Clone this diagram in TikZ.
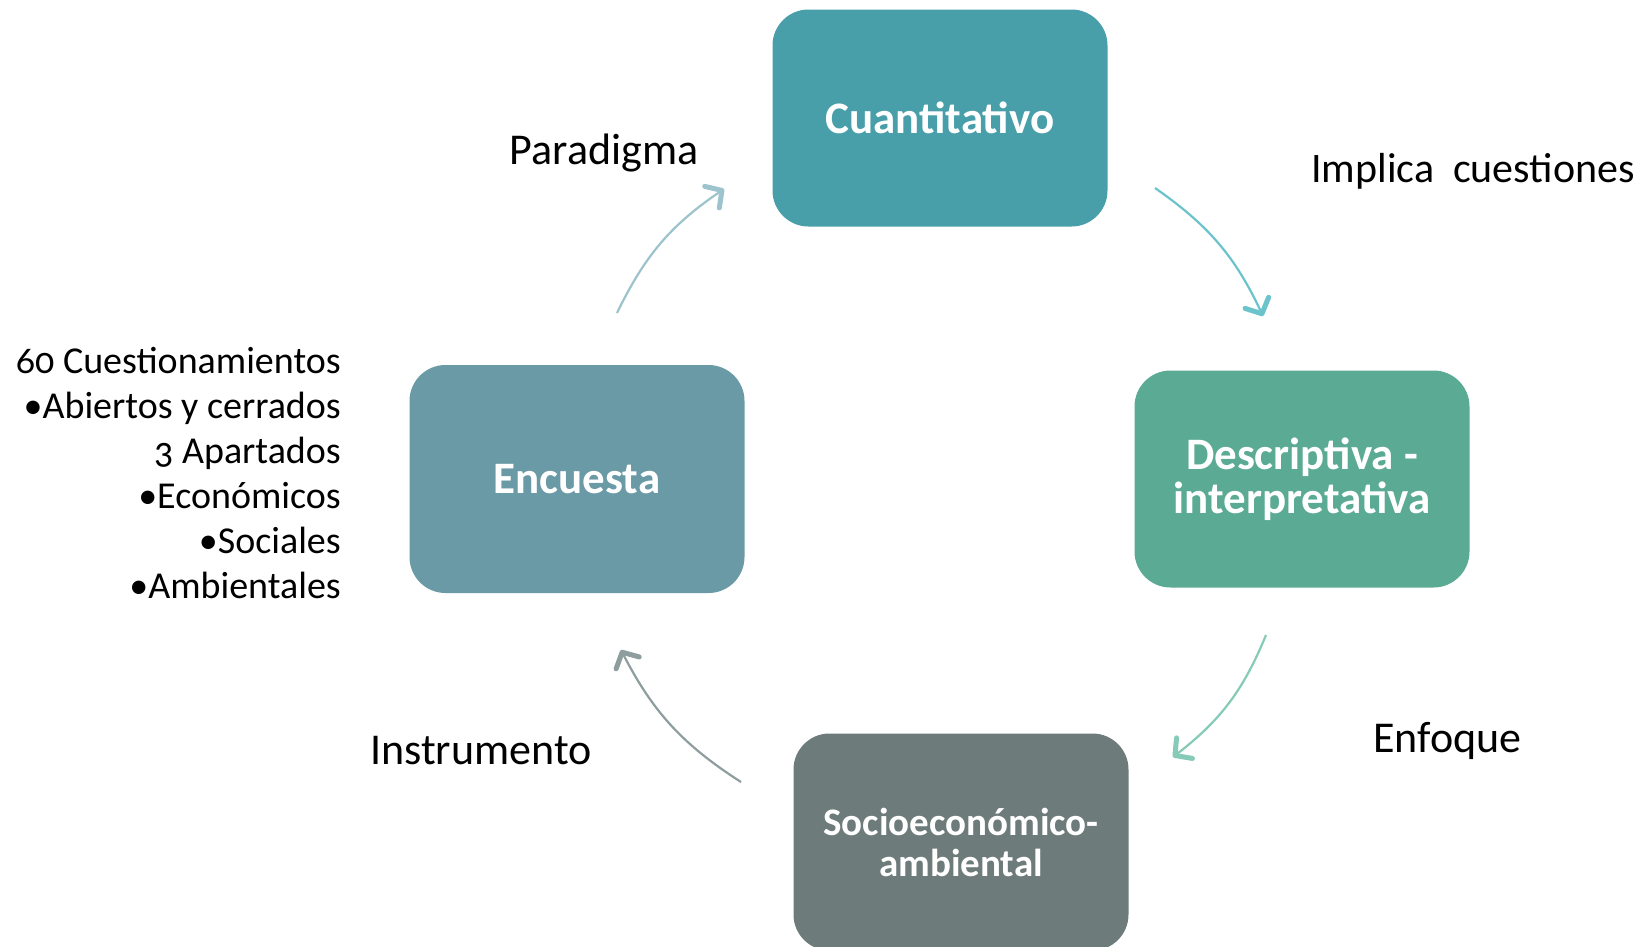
\documentclass[tikz,border=0pt]{standalone}
\usepackage{fontspec}
\setmainfont{Carlito}
\usetikzlibrary{arrows.meta}
\definecolor{cCuant}{HTML}{489FA9}
\definecolor{cDesc}{HTML}{5BAA94}
\definecolor{cSocio}{HTML}{6E7B7B}
\definecolor{cEnc}{HTML}{6A9AA5}
\definecolor{aPar}{HTML}{9DC3CC}
\definecolor{aImp}{HTML}{6BC4CC}
\definecolor{aEnf}{HTML}{86CBB8}
\definecolor{aIns}{HTML}{8E9D9E}
\begin{document}
\begin{tikzpicture}[x=1pt,y=-1pt,
  box/.style={rounded corners=36pt, minimum width=335pt, minimum height=217pt,
    text=white, font=\bfseries\fontsize{45}{44.5}\selectfont, align=center, inner sep=0pt},
  lbl/.style={font=\fontsize{44}{48}\selectfont, inner sep=0pt},
  arr/.style={line width=2.2pt, -{Straight Barb[length=12pt,width=26pt,line width=5pt,round]}}]
\useasboundingbox (0,0) rectangle (1650,946);
\clip (0,0) rectangle (1650,946);
\fill[white] (0,0) rectangle (1650,946);
\node[box, fill=cCuant] (cuant) at (940,118) {Cuantitativo};
\node[box, fill=cDesc] (desc) at (1302,479) {Descriptiva -\\interpretativa};
\node[box, fill=cSocio, font=\bfseries\fontsize{39}{41}\selectfont] (socio) at (961,842) {Socioeconómico-\\ambiental};
\node[box, fill=cEnc, minimum height=228pt] (enc) at (577,479) {Encuesta};
\node[lbl, anchor=base] (par) at (604,164) {Paradigma};
\node[lbl, font=\fontsize{42}{48}\selectfont, anchor=base west] (imp) at (1311,182) {Implica\ \ cuestiones};
\node[lbl, anchor=base west] (enf) at (1373,752) {Enfoque};
\node[lbl, anchor=base west] (ins) at (370,764) {Instrumento};
\node[font=\addfontfeatures{Numbers=OldStyle}\fontsize{38}{44.9}\selectfont, align=right, anchor=east, inner sep=0pt] (list) at (341,473)
  {60 Cuestionamientos\\•Abiertos y cerrados\\3 Apartados\\•Económicos\\•Sociales\\•Ambientales};
\coordinate (p1) at (617,313); \coordinate (p2) at (724,189);
\coordinate (i1) at (1155,188); \coordinate (i2) at (1263,316);
\coordinate (e1) at (1266,635); \coordinate (e2) at (1173,757);
\coordinate (n1) at (741,782); \coordinate (n2) at (621,650);
\draw[arr, aPar] (p1) to[bend left=15] (p2);
\draw[arr, aImp] (i1) to[bend left=15] (i2);
\draw[arr, aEnf] (e1) to[bend left=15] (e2);
\draw[arr, aIns] (n1) to[bend left=15] (n2);
\end{tikzpicture}
\end{document}
